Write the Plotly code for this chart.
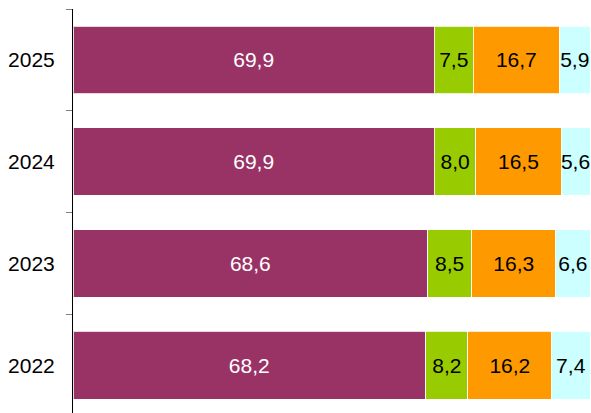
import plotly.graph_objects as go

years = ["2022", "2023", "2024", "2025"]
seg1 = [68.2, 68.6, 69.9, 69.9]
seg2 = [8.2, 8.5, 8.0, 7.5]
seg3 = [16.2, 16.3, 16.5, 16.7]
seg4 = [7.4, 6.6, 5.6, 5.9]

series = [
    (seg1, "#993366", "white"),
    (seg2, "#99CC00", "black"),
    (seg3, "#FF9900", "black"),
    (seg4, "#CCFFFF", "black"),
]

FONT = "Liberation Sans, Arial, sans-serif"

fig = go.Figure()
for vals, color, tcolor in series:
    fig.add_trace(go.Bar(
        y=years, x=vals, orientation="h",
        marker=dict(color=color, line=dict(color="rgba(255,255,255,0.8)", width=1)),
        width=0.665,
        text=vals, texttemplate="%{x:.1f}", textposition="inside",
        insidetextanchor="middle", textangle=0, constraintext="none",
        textfont=dict(family=FONT, size=21, color=tcolor),
        hoverinfo="skip",
    ))

fig.update_layout(
    barmode="stack",
    width=591, height=413,
    margin=dict(l=73, r=1, t=9, b=0),
    plot_bgcolor="white", paper_bgcolor="white",
    showlegend=False,
    separators=", ",
    font=dict(family=FONT, size=21, color="black"),
    xaxis=dict(range=[0, 100], visible=False, showgrid=False, zeroline=False),
    yaxis=dict(
        type="category", categoryorder="array", categoryarray=years,
        range=[-0.47, 3.5],
        showline=True, linecolor="black", linewidth=1,
        ticks="outside", tickson="boundaries", ticklen=6, tickcolor="#808080", tickwidth=1,
        showgrid=False, zeroline=False,
        ticklabelstandoff=13,
        tickfont=dict(size=21),
    ),
)

fig.write_html(
    "out.html",
    config={"displayModeBar": False, "staticPlot": True},
    post_script="document.body.style.margin='0';document.body.style.overflow='hidden';",
)
